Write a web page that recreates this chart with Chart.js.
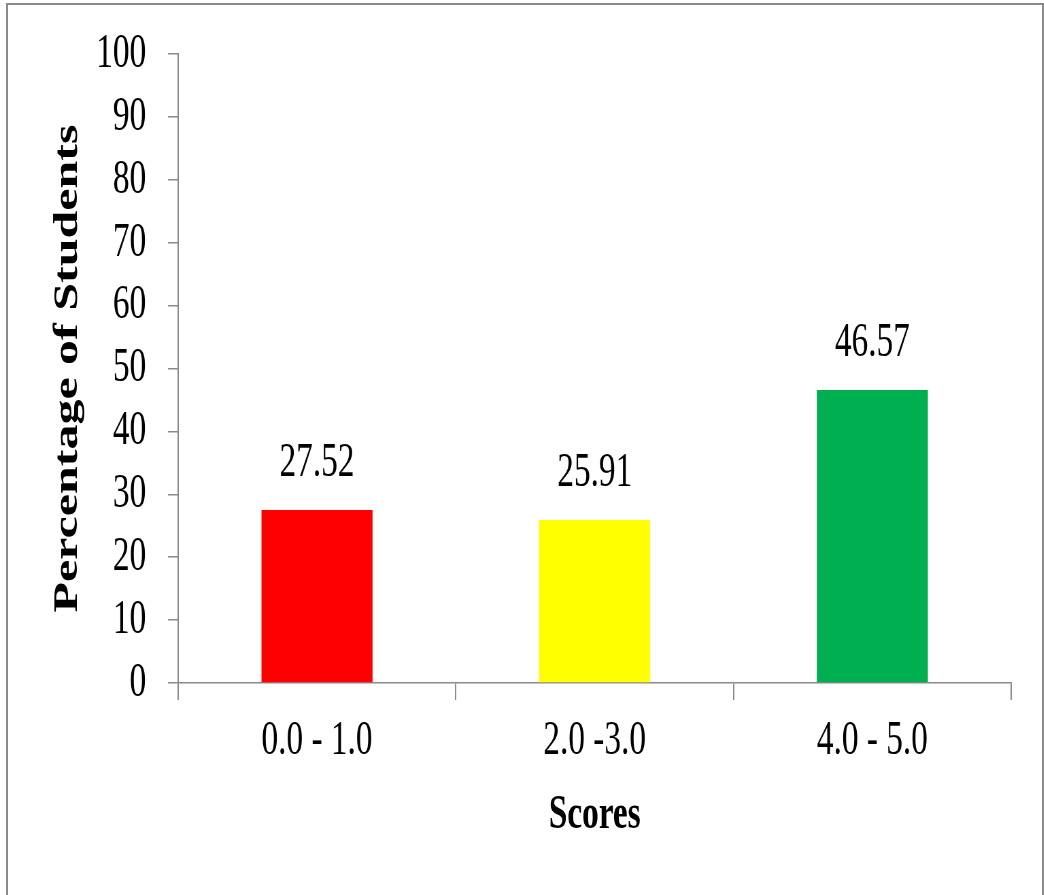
<!DOCTYPE html>
<html>
<head>
<meta charset="utf-8">
<script src="https://cdn.jsdelivr.net/npm/chart.js@4"></script>
<style>
  html, body { margin: 0; padding: 0; background: #fff; }
  #wrap { position: relative; width: 1044px; height: 895px; overflow: hidden; background: #fff; }
  #frame { position: absolute; left: 6px; top: 3px; width: 1034px; height: 900px;
           border: 2px solid #8a8a8a; border-bottom: none; }
  /* the original picture is squeezed sideways, so the chart is drawn wide and narrowed */
  #chart { position: absolute; left: 0; top: 0; transform: scaleX(0.68); transform-origin: 0 0; }
</style>
</head>
<body>
<div id="wrap">
  <div id="frame"></div>
  <canvas id="chart" width="1535" height="895"></canvas>
</div>
<script>
// DATA
const scoreRanges = ['0.0 - 1.0', '2.0 -3.0', '4.0 - 5.0'];
const studentPercent = [27.52, 25.91, 46.57];
const barColors = ['#ff0000', '#ffff00', '#00b050'];
const yMin = 0;
const yMax = 100;
const yStep = 10;

const FONT = '"Liberation Serif", "Times New Roman", serif';
const AXIS_GREY = '#8a8a8a';

// VALUE LABELS ABOVE THE BARS
const valueLabels = {
    id: 'valueLabels',
    afterDatasetsDraw(chart) {
        const ctx = chart.ctx;
        const meta = chart.getDatasetMeta(0);
        ctx.save();
        ctx.font = `49px ${FONT}`;
        ctx.fillStyle = '#000';
        ctx.textAlign = 'center';
        ctx.textBaseline = 'middle';
        meta.data.forEach((bar, i) => {
            ctx.fillText(studentPercent[i].toFixed(2), bar.x, bar.y - 47);
        });
        ctx.restore();
    }
};

const ctx = document.getElementById('chart').getContext('2d');
const scoresChart = new Chart(ctx, {
    type: 'bar',
    data: {
        labels: scoreRanges,
        datasets: [{
            data: studentPercent,
            backgroundColor: barColors,
            borderWidth: 0,
            barPercentage: 0.4,
            categoryPercentage: 1.0
        }]
    },
    options: {
        responsive: false,
        animation: false,
        layout: {
            padding: { left: 70, right: 48, top: 54, bottom: 0 }
        },
        plugins: {
            legend: { display: false },
            tooltip: { enabled: false }
        },
        scales: {
            x: {
                afterFit(scale) { scale.height = 212; },
                grid: {
                    offset: true,
                    drawOnChartArea: false,
                    drawTicks: true,
                    tickLength: 17,
                    color: AXIS_GREY,
                    lineWidth: 2
                },
                border: { color: AXIS_GREY, width: 1.5 },
                ticks: {
                    color: '#000',
                    padding: 12,
                    font: { family: FONT, size: 49 }
                },
                title: {
                    display: true,
                    text: 'Scores',
                    color: '#000',
                    padding: { top: 0, bottom: 50 },
                    font: { family: FONT, size: 49, weight: 'bold' }
                }
            },
            y: {
                min: yMin,
                max: yMax,
                afterFit(scale) {
                    scale.width = 192;
                    scale.paddingTop = 0;
                },
                grid: {
                    drawOnChartArea: false,
                    drawTicks: true,
                    tickLength: 15,
                    color: AXIS_GREY,
                    lineWidth: 1.5
                },
                border: { color: AXIS_GREY, width: 2 },
                ticks: {
                    stepSize: yStep,
                    color: '#000',
                    padding: 32,
                    font: { family: FONT, size: 49 }
                },
                title: {
                    display: true,
                    text: 'Percentage of Students',
                    color: '#000',
                    padding: { top: 0, bottom: 0 },
                    font: { family: FONT, size: 50, weight: 'bold' }
                }
            }
        }
    },
    plugins: [valueLabels]
});
</script>
</body>
</html>
